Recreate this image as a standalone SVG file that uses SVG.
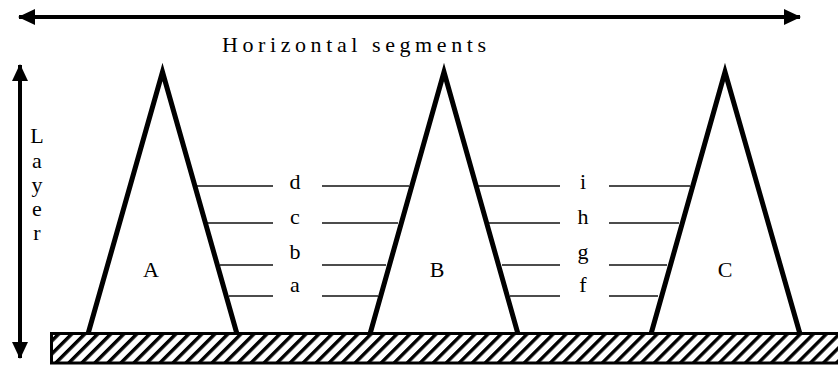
<svg xmlns="http://www.w3.org/2000/svg" width="838" height="365" viewBox="0 0 838 365">
  <defs>
    <pattern id="hatch" patternUnits="userSpaceOnUse" width="9.2" height="9.2" patternTransform="rotate(45)">
      <rect x="0" y="0" width="9.2" height="9.2" fill="#fff"/>
      <rect x="0" y="0" width="3.4" height="9.2" fill="#000"/>
    </pattern>
    <marker id="ah" markerUnits="userSpaceOnUse" markerWidth="17" markerHeight="16" refX="16" refY="8" orient="auto-start-reverse">
      <path d="M0,0 L17,8 L0,16 Z" fill="#000"/>
    </marker>
  </defs>
  <style>
    text { font-family: "Liberation Serif", "Times New Roman", serif; font-size: 22px; fill: #000; }
    .c { text-anchor: middle; }
    .seg { stroke: #111; stroke-width: 1.3; fill: none; }
    .tri { stroke: #000; stroke-width: 5; fill: none; stroke-linejoin: miter; stroke-miterlimit: 6; }
    .arr { stroke: #000; stroke-width: 4; fill: none; }
  </style>
  <rect width="838" height="365" fill="#fff"/>

  <g id="connectors">
    <line class="arr" x1="19" y1="17" x2="800" y2="17" marker-start="url(#ah)" marker-end="url(#ah)"/>
    <line class="arr" x1="20" y1="65" x2="20" y2="358" marker-start="url(#ah)" marker-end="url(#ah)"/>
    <g id="segments">
      <line class="seg" x1="196" y1="186" x2="273" y2="186"/>
      <line class="seg" x1="322" y1="186" x2="409" y2="186"/>
      <line class="seg" x1="207" y1="223" x2="273" y2="223"/>
      <line class="seg" x1="322" y1="223" x2="398" y2="223"/>
      <line class="seg" x1="220" y1="265" x2="273" y2="265"/>
      <line class="seg" x1="322" y1="265" x2="386" y2="265"/>
      <line class="seg" x1="229" y1="296" x2="273" y2="296"/>
      <line class="seg" x1="322" y1="296" x2="378" y2="296"/>
      <line class="seg" x1="477" y1="186" x2="560" y2="186"/>
      <line class="seg" x1="609" y1="186" x2="690" y2="186"/>
      <line class="seg" x1="489" y1="223" x2="560" y2="223"/>
      <line class="seg" x1="609" y1="223" x2="679" y2="223"/>
      <line class="seg" x1="502" y1="265" x2="560" y2="265"/>
      <line class="seg" x1="609" y1="265" x2="667" y2="265"/>
      <line class="seg" x1="510" y1="296" x2="560" y2="296"/>
      <line class="seg" x1="609" y1="296" x2="658" y2="296"/>
    </g>
  </g>

  <g id="nodeA">
    <polyline class="tri" points="88,334 162.5,72 237,334"/>
    <text class="c" x="151" y="277">A</text>
  </g>
  <g id="nodeB">
    <polyline class="tri" points="370,334 444,72 518,334"/>
    <text class="c" x="437" y="277">B</text>
  </g>
  <g id="nodeC">
    <polyline class="tri" points="651,334 725,72 800,334"/>
    <text class="c" x="725" y="277">C</text>
  </g>

  <g id="ground">
    <rect x="51.5" y="333.5" width="800" height="29.5" fill="url(#hatch)" stroke="#000" stroke-width="3"/>
  </g>

  <g id="labels">
    <text x="222" y="52" textLength="264" lengthAdjust="spacing">Horizontal segments</text>
    <text class="c" x="37" y="143">L</text>
    <text class="c" x="37" y="168">a</text>
    <text class="c" x="37" y="192">y</text>
    <text class="c" x="37" y="216">e</text>
    <text class="c" x="37" y="240">r</text>
    <text class="c" x="295" y="189">d</text>
    <text class="c" x="295" y="224">c</text>
    <text class="c" x="295" y="259">b</text>
    <text class="c" x="295" y="292">a</text>
    <text class="c" x="583" y="189">i</text>
    <text class="c" x="583" y="224">h</text>
    <text class="c" x="583" y="259">g</text>
    <text class="c" x="583" y="292">f</text>
  </g>
</svg>
